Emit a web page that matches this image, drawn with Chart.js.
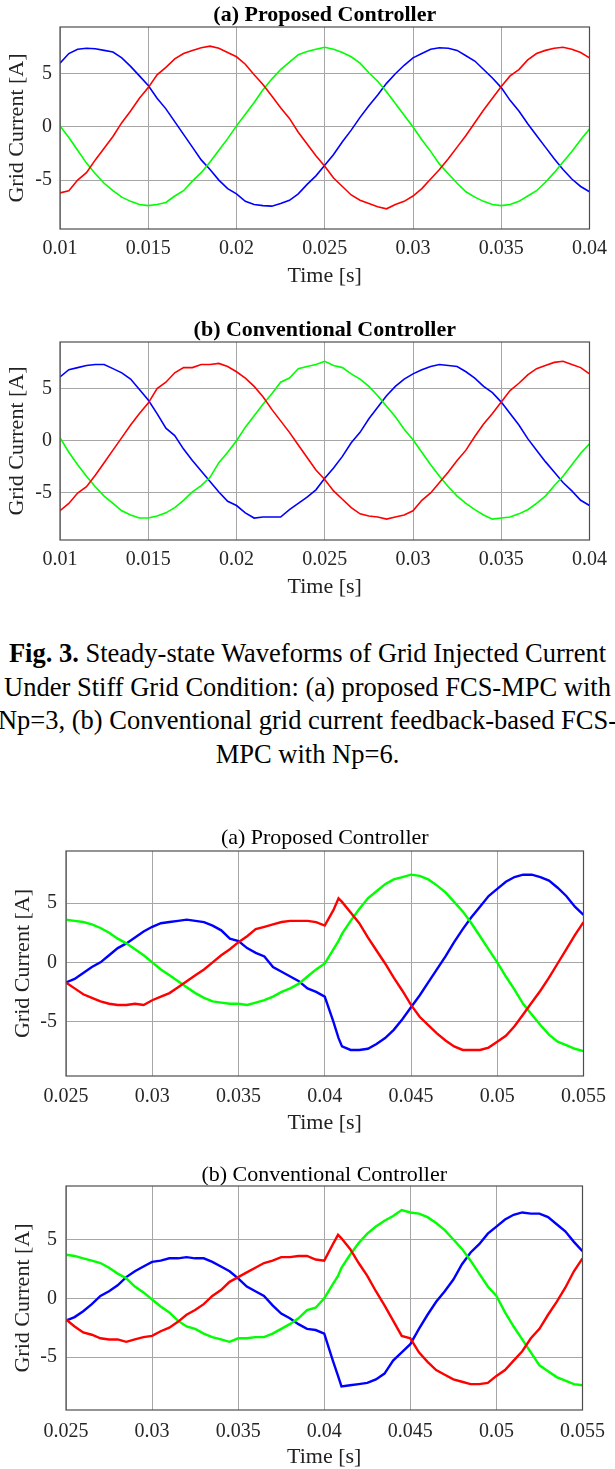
<!DOCTYPE html>
<html>
<head>
<meta charset="utf-8">
<title>Grid current waveforms</title>
<script src="https://cdn.jsdelivr.net/npm/chart.js@4.4.1/dist/chart.umd.min.js"></script>
<style>
  html, body { margin: 0; padding: 0; background: #fff; }
  body { width: 615px; height: 1469px; position: relative; overflow: hidden; }
  canvas { position: absolute; left: 0; }
  #caption {
    position: absolute; left: -150px; width: 915px; top: 637px;
    text-align: center; white-space: nowrap; color: #000;
    font-family: "Liberation Serif", "Times New Roman", serif;
    font-size: 26.5px; line-height: 33.5px;
  }
</style>
</head>
<body>
<canvas id="steadyA" width="615" height="300"></canvas>
<canvas id="steadyB" width="615" height="320"></canvas>
<div id="caption"><b>Fig. 3.</b> Steady-state Waveforms of Grid Injected Current<br>Under Stiff Grid Condition: (a) proposed FCS-MPC with<br>Np=3, (b) Conventional grid current feedback-based FCS-<br>MPC with Np=6.</div>
<canvas id="stepA" width="615" height="325"></canvas>
<canvas id="stepB" width="615" height="319"></canvas>
<script>
// sample instants, seconds
function timeGrid(from, to, step) {
  const out = [];
  const n = Math.round((to - from) / step);
  for (let i = 0; i <= n; i++) out.push(+(from + i * step).toFixed(4));
  return out;
}
const tSteady = timeGrid(0.01, 0.04, 0.0005);
// extra sample at 0.0408 s catches the corner right after the step
const tStep = [...timeGrid(0.025, 0.0405, 0.0005), 0.0408, ...timeGrid(0.041, 0.055, 0.0005)];

const xTicksSteady = [0.01, 0.015, 0.02, 0.025, 0.03, 0.035, 0.04];
const xTicksStep = [0.025, 0.03, 0.035, 0.04, 0.045, 0.05, 0.055];
const yTicks = [-5, 0, 5];

// steady state, proposed controller (A)
const redSteadyA = [-6.2, -6.0, -5.0, -4.3, -3.1, -2.0, -0.9, 0.4, 1.5, 2.7, 3.7, 4.9, 5.6, 6.4, 6.9, 7.2, 7.45, 7.6, 7.4, 7.0,
  6.6, 5.9, 4.9, 4.0, 2.9, 1.8, 0.8, -0.5, -1.6, -2.7, -3.7, -4.8, -5.6, -6.4, -6.9, -7.2, -7.5, -7.7, -7.3, -7.0,
  -6.5, -5.8, -4.9, -4.0, -3.0, -1.9, -0.8, 0.4, 1.6, 2.7, 3.8, 4.8, 5.4, 6.3, 6.9, 7.2, 7.4, 7.5, 7.3, 7.0, 6.5];
const greenSteadyA = [0.1, -1.0, -2.2, -3.4, -4.4, -5.3, -6.0, -6.6, -7.0, -7.3, -7.4, -7.3, -7.1, -6.5, -6.0, -5.1, -4.3, -3.3, -2.2, -1.1,
  0.1, 1.2, 2.3, 3.5, 4.5, 5.4, 6.1, 6.8, 7.1, 7.3, 7.5, 7.3, 7.0, 6.6, 6.0, 5.1, 4.3, 3.3, 2.2, 1.1,
  0.0, -1.2, -2.3, -3.5, -4.4, -5.3, -6.1, -6.6, -7.0, -7.3, -7.4, -7.3, -7.0, -6.5, -6.0, -5.2, -4.3, -3.3, -2.3, -1.2, -0.2];
const blueSteadyA = [6.0, 6.9, 7.3, 7.4, 7.35, 7.2, 7.05, 6.5, 5.7, 4.8, 3.9, 2.7, 1.7, 0.5, -0.7, -1.9, -3.1, -4.0, -5.0, -5.8,
  -6.3, -7.0, -7.3, -7.4, -7.45, -7.2, -6.9, -6.3, -5.4, -4.6, -3.6, -2.6, -1.4, -0.3, 0.9, 2.0, 3.0, 4.1, 5.0, 5.8,
  6.5, 6.9, 7.3, 7.45, 7.4, 7.2, 6.7, 6.2, 5.4, 4.6, 3.7, 2.5, 1.5, 0.3, -0.8, -1.9, -3.0, -4.0, -4.9, -5.6, -6.1];

// steady state, conventional controller (B)
const redSteadyB = [-6.7, -6.0, -5.0, -4.4, -3.3, -2.1, -0.9, 0.3, 1.5, 2.6, 3.6, 5.0, 5.6, 6.5, 7.0, 7.0, 7.3, 7.3, 7.4, 7.1,
  6.6, 6.0, 5.2, 4.2, 3.0, 1.9, 0.8, -0.4, -1.6, -2.8, -3.7, -4.8, -5.6, -6.4, -7.0, -7.2, -7.3, -7.5, -7.3, -7.1,
  -6.7, -5.7, -5.0, -4.0, -3.0, -1.9, -0.9, 0.4, 1.6, 2.6, 3.7, 4.8, 5.5, 6.3, 6.9, 7.2, 7.5, 7.6, 7.3, 7.0, 6.4];
const greenSteadyB = [0.3, -1.1, -2.3, -3.4, -4.4, -5.3, -6.0, -6.7, -7.1, -7.4, -7.4, -7.2, -6.9, -6.4, -5.7, -4.9, -4.3, -3.5, -2.1, -1.1,
  0.0, 1.3, 2.4, 3.5, 4.5, 5.6, 6.0, 6.9, 7.1, 7.3, 7.6, 7.2, 7.0, 6.4, 5.9, 5.2, 4.3, 3.3, 2.3, 1.1,
  0.1, -1.1, -2.3, -3.4, -4.4, -5.3, -6.0, -6.6, -7.1, -7.5, -7.4, -7.3, -7.0, -6.6, -6.0, -5.3, -4.3, -3.4, -2.3, -1.2, -0.3];
const blueSteadyB = [6.1, 6.8, 7.0, 7.2, 7.3, 7.3, 6.9, 6.5, 5.9, 4.9, 3.9, 2.6, 1.2, 0.5, -0.8, -1.9, -2.9, -3.9, -4.9, -5.8,
  -6.2, -6.9, -7.4, -7.3, -7.3, -7.3, -6.6, -6.0, -5.4, -4.7, -3.6, -2.6, -1.5, -0.2, 0.8, 2.1, 3.2, 4.3, 5.2, 5.9,
  6.4, 6.8, 7.1, 7.3, 7.2, 7.1, 6.6, 6.0, 5.2, 4.6, 3.7, 2.6, 1.5, 0.2, -0.9, -2.0, -3.0, -4.0, -4.8, -5.7, -6.2];

// reference step at 0.04 s, proposed controller (A)
const redStepA = [-1.7, -2.2, -2.7, -3.0, -3.3, -3.5, -3.6, -3.6, -3.5, -3.6, -3.2, -2.9, -2.6, -2.1, -1.6, -1.1, -0.6, 0.0, 0.6, 1.1,
  1.7, 2.2, 2.8, 3.0, 3.2, 3.4, 3.5, 3.5, 3.5, 3.4, 3.1, 4.4, 5.4,
  5.1, 4.2, 3.3, 2.1, 1.0, -0.1, -1.3, -2.4, -3.6, -4.6, -5.3, -6.0, -6.6, -7.1, -7.4, -7.4, -7.4, -7.2, -6.7, -6.2, -5.4, -4.4, -3.4,
  -2.4, -1.3, -0.1, 1.1, 2.3, 3.4];
const greenStepA = [3.6, 3.5, 3.4, 3.2, 2.9, 2.5, 2.0, 1.6, 1.1, 0.6, 0.0, -0.6, -1.1, -1.6, -2.1, -2.6, -3.0, -3.3, -3.4, -3.5,
  -3.5, -3.6, -3.4, -3.2, -2.9, -2.5, -2.2, -1.8, -1.2, -0.6, -0.1, 1.1, 1.8,
  2.4, 3.5, 4.5, 5.4, 6.0, 6.6, 7.0, 7.2, 7.4, 7.3, 7.0, 6.5, 5.9, 5.1, 4.3, 3.3, 2.2, 1.1, 0.0, -1.2, -2.3, -3.5, -4.4,
  -5.3, -6.1, -6.7, -7.0, -7.3, -7.5];
const blueStepA = [-1.7, -1.4, -0.9, -0.4, 0.0, 0.6, 1.2, 1.6, 2.1, 2.6, 3.0, 3.3, 3.4, 3.5, 3.6, 3.5, 3.4, 3.1, 2.7, 2.0,
  1.8, 1.2, 0.8, 0.5, -0.4, -0.8, -1.2, -1.6, -2.2, -2.5, -2.9, -5.0, -6.4,
  -7.1, -7.4, -7.4, -7.3, -6.9, -6.4, -5.7, -4.8, -3.8, -2.8, -1.7, -0.6, 0.5, 1.7, 2.8, 3.8, 4.7, 5.6, 6.2, 6.8, 7.2, 7.4, 7.4,
  7.2, 6.9, 6.3, 5.6, 4.7, 4.0];

// reference step at 0.04 s, conventional controller (B)
const redStepB = [-1.8, -2.4, -2.9, -3.1, -3.4, -3.5, -3.5, -3.7, -3.5, -3.3, -3.2, -2.8, -2.5, -2.0, -1.4, -1.0, -0.5, 0.2, 0.7, 1.4,
  1.8, 2.2, 2.6, 3.0, 3.2, 3.5, 3.5, 3.6, 3.6, 3.3, 3.2, 4.6, 5.4,
  5.1, 4.2, 3.0, 1.9, 0.6, -0.6, -1.9, -3.2, -3.4, -4.6, -5.4, -6.1, -6.5, -6.9, -7.1, -7.3, -7.3, -7.2, -6.6, -6.1, -5.3, -4.5, -3.4,
  -2.6, -1.4, -0.3, 0.9, 2.3, 3.4];
const greenStepB = [3.7, 3.6, 3.4, 3.2, 3.0, 2.6, 2.1, 1.7, 1.0, 0.5, -0.1, -0.7, -1.2, -1.9, -2.4, -2.6, -3.0, -3.3, -3.5, -3.7,
  -3.4, -3.4, -3.3, -3.3, -3.0, -2.6, -2.2, -1.7, -1.0, -0.8, 0.0, 1.2, 1.9,
  2.6, 3.7, 4.7, 5.5, 6.1, 6.6, 7.0, 7.5, 7.3, 7.2, 6.9, 6.4, 5.8, 5.0, 4.2, 3.2, 2.1, 1.0, 0.2, -1.2, -2.4, -3.5, -4.6,
  -5.7, -6.2, -6.7, -7.0, -7.3, -7.4];
const blueStepB = [-1.9, -1.6, -1.1, -0.5, 0.2, 0.6, 1.1, 1.8, 2.3, 2.7, 3.1, 3.2, 3.4, 3.4, 3.5, 3.4, 3.4, 3.1, 2.7, 2.3,
  1.7, 1.0, 0.6, 0.2, -0.6, -1.3, -1.7, -2.2, -2.6, -2.7, -3.0, -5.3, -6.6,
  -7.5, -7.4, -7.3, -7.2, -6.9, -6.4, -5.3, -4.6, -3.9, -2.6, -1.4, -0.3, 0.6, 1.6, 2.9, 3.9, 4.6, 5.5, 6.1, 6.7, 7.1, 7.3, 7.2,
  7.2, 6.9, 6.3, 5.7, 4.8, 4.0];

Chart.defaults.font.family = '"Liberation Serif", "Times New Roman", serif';
Chart.defaults.color = '#262626';

// closed box round the plot area
const frame = {
  id: 'frame',
  afterDraw(chart) {
    const { ctx, chartArea: a } = chart;
    ctx.save();
    ctx.strokeStyle = '#4d4d4d';
    ctx.lineWidth = 1.2;
    ctx.strokeRect(a.left, a.top, a.right - a.left, a.bottom - a.top);
    ctx.restore();
  }
};

// page geometry of each panel, in px
const panels = [
  { id: 'steadyA', top: 0, height: 300, left: 60, right: 594, areaTop: 27, areaBottom: 229,
    titleY: 15, tickY: 249, xTitleY: 276, yTitleX: 17, yTickRight: 52, yMin: -9.6, yMax: 9.4,
    lw: 1.6, bold: true, title: '(a) Proposed Controller',
    t: tSteady, xTicks: xTicksSteady, red: redSteadyA, green: greenSteadyA, blue: blueSteadyA },
  { id: 'steadyB', top: 310, height: 320, left: 60, right: 599, areaTop: 342, areaBottom: 540,
    titleY: 330, tickY: 560, xTitleY: 587, yTitleX: 17, yTickRight: 52, yMin: -9.5, yMax: 9.45,
    lw: 1.6, bold: true, title: '(b) Conventional Controller',
    t: tSteady, xTicks: xTicksSteady, red: redSteadyB, green: greenSteadyB, blue: blueSteadyB },
  { id: 'stepA', top: 815, height: 325, left: 66, right: 585, areaTop: 851, areaBottom: 1076,
    titleY: 838, tickY: 1097, xTitleY: 1123, yTitleX: 23, yTickRight: 57, yMin: -9.6, yMax: 9.4,
    lw: 2.4, bold: false, title: '(a) Proposed Controller',
    t: tStep, xTicks: xTicksStep, red: redStepA, green: greenStepA, blue: blueStepA },
  { id: 'stepB', top: 1150, height: 319, left: 66, right: 585, areaTop: 1186, areaBottom: 1410,
    titleY: 1175, tickY: 1432, xTitleY: 1457, yTitleX: 23, yTickRight: 57, yMin: -9.5, yMax: 9.55,
    lw: 2.4, bold: false, title: '(b) Conventional Controller',
    t: tStep, xTicks: xTicksStep, red: redStepB, green: greenStepB, blue: blueStepB }
];

function drawPanel(p) {
  const canvas = document.getElementById(p.id);
  canvas.style.top = p.top + 'px';
  const H = p.height;
  const titleLh = 22 * 0.8;
  const axisLh = 22 * 1.2;
  const tickLh = 20 * 1.2;
  const phases = [
    { label: 'ia', data: p.red, color: '#ff0000' },
    { label: 'ib', data: p.green, color: '#00ff00' },
    { label: 'ic', data: p.blue, color: '#0000ff' }
  ];
  const xMin = p.xTicks[0], xMax = p.xTicks[p.xTicks.length - 1];

  new Chart(canvas, {
    type: 'line',
    data: {
      datasets: phases.map(s => ({
        label: s.label,
        data: p.t.map((t, i) => ({ x: t, y: s.data[i] })),
        borderColor: s.color,
        borderWidth: p.lw,
        pointRadius: 0,
        tension: 0,
        fill: false
      }))
    },
    options: {
      responsive: false,
      animation: false,
      events: [],
      layout: { padding: { left: 0, right: 615 - p.right, top: 0, bottom: 0 } },
      plugins: { legend: { display: false }, tooltip: { enabled: false } },
      scales: {
        x: {
          type: 'linear', position: 'bottom', min: xMin, max: xMax,
          afterBuildTicks: s => { s.ticks = p.xTicks.map(v => ({ value: v })); },
          afterFit: s => { s.height = H - (p.areaBottom - p.top); },
          ticks: { font: { size: 20 }, padding: p.tickY - p.areaBottom - tickLh / 2, maxRotation: 0,
                   callback: v => String(v) },
          grid: { color: '#a6a6a6', lineWidth: 1, drawTicks: false },
          border: { display: false },
          title: { display: true, text: 'Time [s]', font: { size: 22 }, color: '#222',
                   padding: { top: 0, bottom: H - (p.xTitleY - p.top) - axisLh / 2 } }
        },
        // carries the panel heading, centred over the plot area
        heading: {
          type: 'linear', position: 'top', min: xMin, max: xMax,
          afterFit: s => { s.height = p.areaTop - p.top; },
          ticks: { display: false },
          grid: { display: false, drawTicks: false },
          border: { display: false },
          title: { display: true, text: p.title, color: '#000',
                   font: { size: 22, weight: p.bold ? 'bold' : 'normal', lineHeight: 0.8 },
                   padding: { top: (p.titleY - p.top) - titleLh / 2, bottom: 0 } }
        },
        y: {
          type: 'linear', position: 'left', min: p.yMin, max: p.yMax,
          afterBuildTicks: s => { s.ticks = yTicks.map(v => ({ value: v })); },
          afterFit: s => { s.width = p.left; },
          ticks: { font: { size: 20 }, padding: p.left - p.yTickRight, callback: v => String(v) },
          grid: { color: '#a6a6a6', lineWidth: 1, drawTicks: false },
          border: { display: false },
          title: { display: true, text: 'Grid Current [A]', font: { size: 22 }, color: '#222',
                   padding: { top: p.yTitleX - axisLh / 2, bottom: 0 } }
        }
      }
    },
    plugins: [frame]
  });
}

panels.forEach(drawPanel);
</script>
</body>
</html>
